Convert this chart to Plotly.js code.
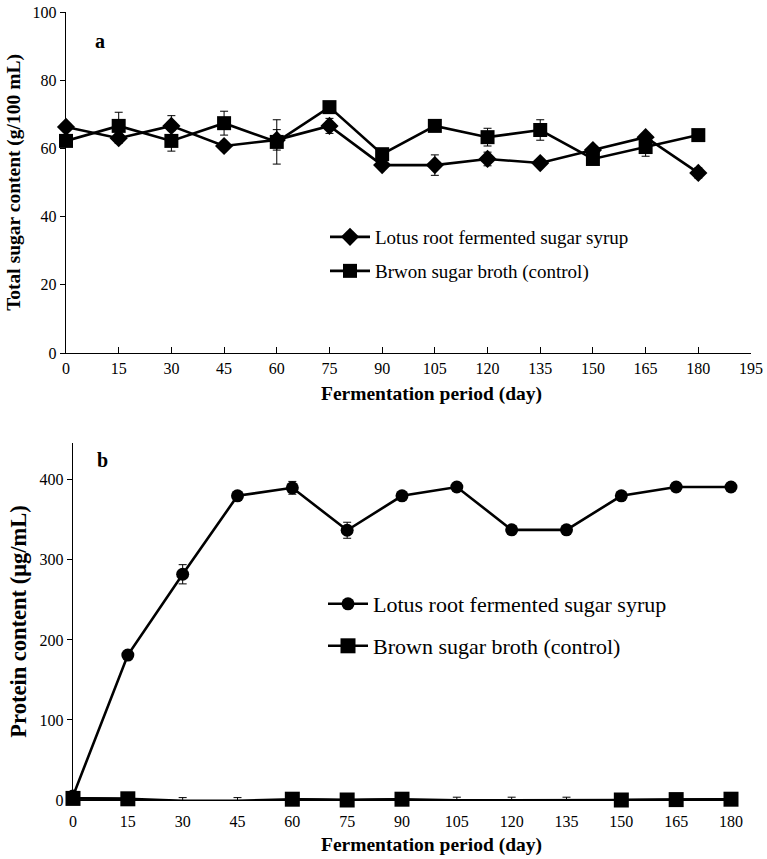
<!DOCTYPE html>
<html>
<head>
<meta charset="utf-8">
<script src="https://cdn.plot.ly/plotly-3.0.1.min.js"></script>
<style>html,body{margin:0;padding:0;background:#fff;}#chart{width:767px;height:859px;}</style>
</head>
<body>
<div id="chart"></div>
<script>
// ---- Data ----
const days = [0, 15, 30, 45, 60, 75, 90, 105, 120, 135, 150, 165, 180];
const xTicksTop = [0, 15, 30, 45, 60, 75, 90, 105, 120, 135, 150, 165, 180, 195];
const xTicksBottom = [0, 15, 30, 45, 60, 75, 90, 105, 120, 135, 150, 165, 180];

// Panel a: total sugar content (g/100 mL)
const sugarLotus = [66.3, 63.0, 66.6, 60.7, 62.5, 66.6, 55.1, 55.1, 56.9, 55.7, 59.5, 63.3, 52.8];
const sugarLotusErr = [1.0, 1.5, 3.0, 0.8, 3.0, 2.2, 1.0, 3.0, 2.0, 1.2, 1.0, 1.0, 1.5];
const sugarBrown = [62.2, 66.6, 62.2, 67.4, 61.9, 72.1, 58.3, 66.6, 63.3, 65.4, 56.9, 60.4, 63.9];
const sugarBrownErr = [1.0, 4.0, 3.0, 3.5, 6.5, 1.0, 1.0, 1.0, 2.6, 3.0, 1.0, 2.7, 1.0];

// Panel b: protein content (μg/mL)
const protLotus = [5, 181, 282, 380, 390, 337, 380, 391, 337.5, 337.5, 380, 391, 391];
const protLotusErr = [2, 3, 12, 3, 8, 10, 3, 3, 3, 3, 3, 3, 3];
const protBrown = [2, 1.5, -1, -1, 1, 0, 1, -0.5, -0.5, -0.5, 0, 0.5, 1];
const protBrownErr = [1, 1, 4, 4, 1, 1, 1, 4, 4, 4, 1, 1, 1];
// points whose square marker is visible in the original figure
const protBrownShown = [true, true, false, false, true, true, true, false, false, false, true, true, true];

const labelsA = ['Lotus root fermented sugar syrup', 'Brwon sugar broth (control)'];
const labelsB = ['Lotus root fermented sugar syrup', 'Brown sugar broth (control)'];
const xTitle = 'Fermentation period (day)';

// ---- Styling ----
const FONT = '"Liberation Serif", "Times New Roman", serif';
const lineStyle = {color: '#000', width: 2.6};
function errY(arr) {
  return {type: 'data', array: arr, visible: true, color: '#000', thickness: 1, width: 4};
}

const traces = [
  {x: days, y: sugarLotus, name: labelsA[0], type: 'scatter', mode: 'lines+markers',
   line: lineStyle, marker: {symbol: 'diamond', size: 14, color: '#000'},
   error_y: errY(sugarLotusErr), xaxis: 'x', yaxis: 'y', legend: 'legend', cliponaxis: false},
  {x: days, y: sugarBrown, name: labelsA[1], type: 'scatter', mode: 'lines+markers',
   line: lineStyle, marker: {symbol: 'square', size: 14, color: '#000'},
   error_y: errY(sugarBrownErr), xaxis: 'x', yaxis: 'y', legend: 'legend2', cliponaxis: false},
  {x: days, y: protLotus, name: labelsB[0], type: 'scatter', mode: 'lines+markers',
   line: lineStyle, marker: {symbol: 'circle', size: 13, color: '#000'},
   error_y: errY(protLotusErr), xaxis: 'x2', yaxis: 'y2', legend: 'legend3', cliponaxis: false},
  // brown sugar broth: full line with error bars
  {x: days, y: protBrown, name: labelsB[1], type: 'scatter', mode: 'lines',
   line: lineStyle, error_y: errY(protBrownErr), showlegend: false,
   xaxis: 'x2', yaxis: 'y2', cliponaxis: false},
  // brown sugar broth: visible square markers
  {x: days, y: protBrown.map((v, i) => protBrownShown[i] ? v : null), name: labelsB[1],
   type: 'scatter', mode: 'lines+markers', connectgaps: false,
   line: lineStyle, marker: {symbol: 'square', size: 15, color: '#000'},
   xaxis: 'x2', yaxis: 'y2', legend: 'legend4', cliponaxis: false}
];

const tickFont = {family: FONT, size: 16, color: '#000'};
const xTitleFont = {family: FONT, size: 19.5, color: '#000', weight: 'bold'};

const layout = {
  width: 767, height: 859,
  margin: {l: 0, r: 0, t: 0, b: 0},
  paper_bgcolor: '#fff', plot_bgcolor: 'rgba(0,0,0,0)',
  font: {family: FONT, color: '#000'},
  showlegend: true,
  xaxis: {
    domain: [66/767, 751/767], anchor: 'y', range: [0, 195],
    tickmode: 'array', tickvals: xTicksTop, ticktext: xTicksTop.map(String),
    ticks: 'inside', ticklen: 6, tickwidth: 1, tickcolor: '#000',
    showline: true, linecolor: '#000', linewidth: 1.3, showgrid: false, zeroline: false,
    tickfont: tickFont
  },
  yaxis: {
    domain: [(859-353)/859, (859-12)/859], anchor: 'x', range: [0, 100],
    tickmode: 'linear', tick0: 0, dtick: 20,
    ticks: 'outside', ticklen: 5, tickwidth: 1, tickcolor: '#000',
    showline: true, linecolor: '#000', linewidth: 1.3, showgrid: false, zeroline: false,
    tickfont: tickFont,
    title: {text: 'Total sugar content (g/100 mL)', font: {family: FONT, size: 19.5, color: '#000', weight: 'bold'}, standoff: 6}
  },
  xaxis2: {
    domain: [73/767, 731/767], anchor: 'y2', range: [0, 180],
    tickmode: 'array', tickvals: xTicksBottom, ticktext: xTicksBottom.map(String),
    ticks: '', ticklabelstandoff: 6,
    showline: true, linecolor: '#000', linewidth: 1.3, showgrid: false, zeroline: false,
    tickfont: tickFont
  },
  yaxis2: {
    domain: [(859-800)/859, (859-443)/859], anchor: 'x2', range: [0, 446],
    tickmode: 'linear', tick0: 0, dtick: 100,
    ticks: 'outside', ticklen: 5, tickwidth: 1, tickcolor: '#000',
    showline: true, linecolor: '#000', linewidth: 1.3, showgrid: false, zeroline: false,
    tickfont: tickFont,
    title: {text: 'Protein content (μg/mL)', font: {family: FONT, size: 22.5, color: '#000', weight: 'bold'}, standoff: 6}
  },
  legend: {
    x: 325/767, y: (859-218)/859, xanchor: 'left', yanchor: 'top',
    bgcolor: 'rgba(0,0,0,0)', font: {family: FONT, size: 19, color: '#000'}, itemwidth: 40
  },
  legend2: {
    x: 325/767, y: (859-252)/859, xanchor: 'left', yanchor: 'top',
    bgcolor: 'rgba(0,0,0,0)', font: {family: FONT, size: 19, color: '#000'}, itemwidth: 40
  },
  legend3: {
    x: 323/767, y: (859-583)/859, xanchor: 'left', yanchor: 'top',
    bgcolor: 'rgba(0,0,0,0)', font: {family: FONT, size: 22, color: '#000'}, itemwidth: 40
  },
  legend4: {
    x: 323/767, y: (859-625)/859, xanchor: 'left', yanchor: 'top',
    bgcolor: 'rgba(0,0,0,0)', font: {family: FONT, size: 22, color: '#000'}, itemwidth: 40
  },
  annotations: [
    {text: '<b>a</b>', xref: 'paper', yref: 'paper', x: 93/767, y: (859-28)/859,
     showarrow: false, font: {family: FONT, size: 20, color: '#000'}},
    {text: '<b>b</b>', xref: 'paper', yref: 'paper', x: 95/767, y: (859-460)/859,
     showarrow: false, font: {family: FONT, size: 20, color: '#000'}},
    {text: xTitle, xref: 'paper', yref: 'paper', x: 431/767, y: (859-394)/859,
     xanchor: 'center', yanchor: 'middle', showarrow: false, font: xTitleFont},
    {text: xTitle, xref: 'paper', yref: 'paper', x: 431/767, y: (859-845)/859,
     xanchor: 'center', yanchor: 'middle', showarrow: false, font: xTitleFont}
  ]
};

Plotly.newPlot('chart', traces, layout, {displayModeBar: false, staticPlot: true});
</script>
</body>
</html>
